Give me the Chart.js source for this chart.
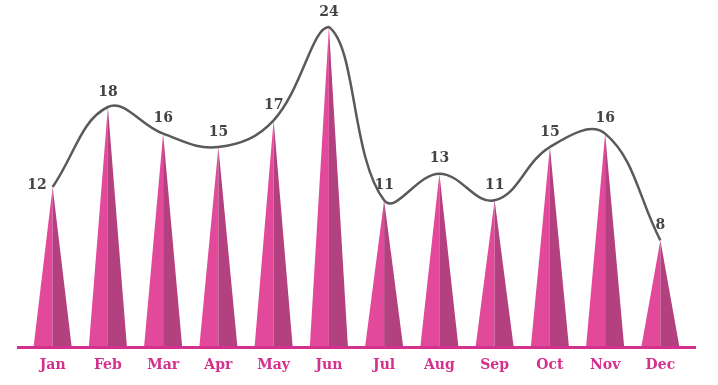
<!DOCTYPE html>
<html>
<head>
<meta charset="utf-8">
<script src="https://cdn.jsdelivr.net/npm/chart.js@4.4.2/dist/chart.umd.min.js"></script>
<style>
  html, body { margin: 0; padding: 0; background: #fff; }
  #wrap { width: 718px; height: 385px; position: relative; }
</style>
</head>
<body>
<div id="wrap"><canvas id="chart"></canvas></div>
<script>
// ── Data ─────────────────────────────────────────────
const months = ['Jan', 'Feb', 'Mar', 'Apr', 'May', 'Jun', 'Jul', 'Aug', 'Sep', 'Oct', 'Nov', 'Dec'];
const values = [12, 18, 16, 15, 17, 24, 11, 13, 11, 15, 16, 8];

const pinkLight = '#e2499b';
const pinkDark  = '#b3407f';
const axisPink  = '#d4308e';
const labelFont = '"DejaVu Serif", "Liberation Serif", serif';

// spikes + axis + labels drawn from the scales
const spikePlugin = {
  id: 'spikes',
  beforeDatasetsDraw(chart) {
    const { ctx, scales: { x, y }, chartArea } = chart;
    const base = y.getPixelForValue(0);
    const half = (x.getPixelForValue(1) - x.getPixelForValue(0)) * 0.345;
    ctx.save();
    values.forEach((v, i) => {
      const cx = x.getPixelForValue(i);
      const top = y.getPixelForValue(v);
      ctx.fillStyle = pinkLight;
      ctx.beginPath();
      ctx.moveTo(cx - half, base);
      ctx.lineTo(cx, top);
      ctx.lineTo(cx, base);
      ctx.closePath();
      ctx.fill();
      ctx.fillStyle = pinkDark;
      ctx.beginPath();
      ctx.moveTo(cx, base);
      ctx.lineTo(cx, top);
      ctx.lineTo(cx + half, base);
      ctx.closePath();
      ctx.fill();
    });
    // axis line
    ctx.fillStyle = axisPink;
    ctx.fillRect(chartArea.left - 8, base - 1, chartArea.right - chartArea.left + 16, 3);

    // month labels
    ctx.font = 'bold 14px ' + labelFont;
    ctx.fillStyle = axisPink;
    ctx.textAlign = 'center';
    ctx.textBaseline = 'middle';
    months.forEach((m, i) => ctx.fillText(m, x.getPixelForValue(i), base + 18));
    ctx.restore();
  },
  afterDatasetsDraw(chart) {
    const { ctx, scales: { x, y } } = chart;
    ctx.save();
    ctx.font = 'bold 14px ' + labelFont;
    ctx.fillStyle = '#444444';
    ctx.textBaseline = 'middle';
    values.forEach((v, i) => {
      const cx = x.getPixelForValue(i);
      const top = y.getPixelForValue(v);
      if (i === 0) {
        ctx.textAlign = 'right';
        ctx.fillText(String(v), cx - 6, top - 2);
      } else {
        ctx.textAlign = 'center';
        ctx.fillText(String(v), cx, top - 15);
      }
    });
    ctx.restore();
  }
};

new Chart(document.getElementById('chart'), {
  type: 'line',
  data: {
    labels: months,
    datasets: [{
      data: values,
      borderColor: '#5a5a5a',
      borderWidth: 2.5,
      tension: 0.4,
      pointRadius: 0,
      fill: false,
      clip: false,
    }],
  },
  options: {
    responsive: true,
    maintainAspectRatio: false,
    animation: false,
    layout: { padding: { left: 25, right: 30, top: 27, bottom: 38 } },
    plugins: { legend: { display: false }, tooltip: { enabled: false } },
    scales: {
      x: { display: false, offset: true },
      y: { display: false, min: 0, max: 24 },
    },
  },
  plugins: [spikePlugin],
});
</script>
</body>
</html>
